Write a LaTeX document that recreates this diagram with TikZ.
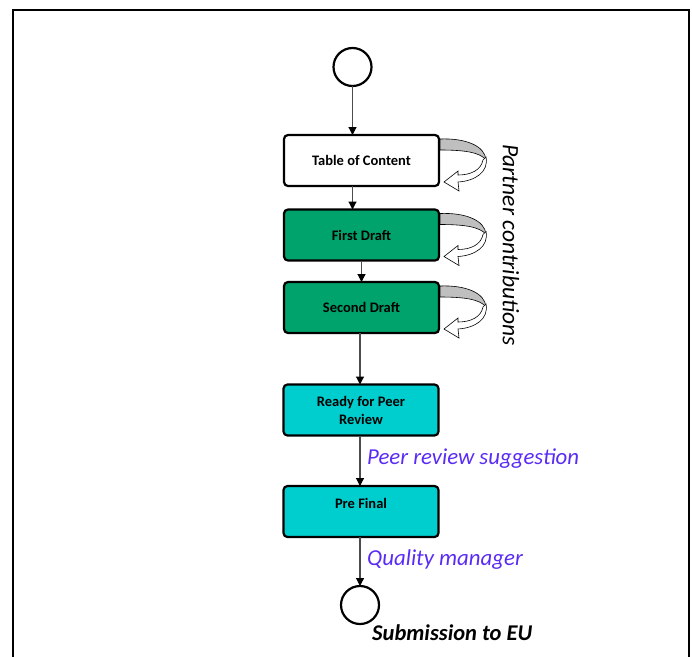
\documentclass[tikz,border=0pt]{standalone}
\usepackage{fontspec}
\setmainfont{Carlito}
\usetikzlibrary{arrows.meta,calc}
\definecolor{boxgreen}{HTML}{00A36C}
\definecolor{boxteal}{HTML}{00CDCD}
\definecolor{labblue}{HTML}{5A2BF5}
\tikzset{
  stepbox/.style={draw=black, line width=2.2pt, rounded corners=4pt, minimum width=155pt, minimum height=51pt, inner sep=2pt, font=\fontsize{14.5}{18}\selectfont\bfseries, align=center, outer sep=0pt},
  evt/.style={draw=black, line width=2.2pt, circle, minimum size=38pt, inner sep=0pt, outer sep=0pt},
  flow/.style={draw=black!70, line width=1.2pt, -{Triangle[width=8pt,length=8pt,fill=black,color=black]}},
  bluelab/.style={text=labblue, font=\fontsize{22.8}{26}\selectfont\itshape, anchor=west, inner sep=0pt},
  turnarrow/.pic={
    \draw[line width=0.6pt, fill=black!25] (1,4) .. controls (27,3) and (46,11) .. (47,25)
      .. controls (41,17) and (24,15) .. (1,15) -- cycle;
    \draw[line width=0.6pt, fill=white] (47,22) .. controls (50,37) and (36,46) .. (19,47)
      -- (20,56) -- (5,47) -- (19,36) -- (19,40)
      .. controls (32,40) and (42,35) .. (44,25) -- cycle;
  }
}
\begin{document}
\begin{tikzpicture}[x=1pt,y=-1pt]
\useasboundingbox (0,0) rectangle (692,656);
\draw[line width=2.6pt] (12.8,662) -- (12.8,9.8) -- (689,9.8) -- (689,662);

\node[evt] (start) at (352.5,67) {};
\node[stepbox, fill=white] (toc) at (361.5,160.5) {Table of Content};
\node[stepbox, fill=boxgreen] (fd) at (361.5,235) {First Draft};
\node[stepbox, fill=boxgreen] (sd) at (361.5,307.5) {Second Draft};
\node[stepbox, fill=boxteal] (rpr) at (361,410) {Ready for Peer\\Review};
\node[stepbox, fill=boxteal, label={[anchor=center, yshift=8pt, font=\fontsize{14.5}{18}\selectfont\bfseries]center:Pre Final}] (pf) at (361,511.5) {};
\node[evt] (stop) at (360,605) {};

\draw[flow] (start) -- (start |- toc.north);
\draw[flow] (toc.south -| start) -- (fd.north -| start);
\draw[flow] (fd.south) -- (sd.north);
\draw[flow] (sd.south -| stop) -- (rpr.north -| stop);
\draw[flow] (rpr.south -| stop) -- (pf.north -| stop);
\draw[flow] (pf.south -| stop) -- (stop);

\pic at (toc.north east) {turnarrow};
\pic at (fd.north east) {turnarrow};
\pic at (sd.north east) {turnarrow};

\node[rotate=-90, font=\fontsize{23.5}{26}\selectfont\itshape, inner sep=0pt] (pc) at (511,245) {Partner contributions};
\node[bluelab] (prs) at (367,459) {Peer review suggestion};
\node[bluelab] (qm) at (367,560) {Quality manager};
\node[anchor=west, inner sep=0pt, font=\fontsize{22.5}{26}\selectfont\bfseries\itshape] (sub) at (372,633) {Submission to EU};
\end{tikzpicture}
\end{document}
